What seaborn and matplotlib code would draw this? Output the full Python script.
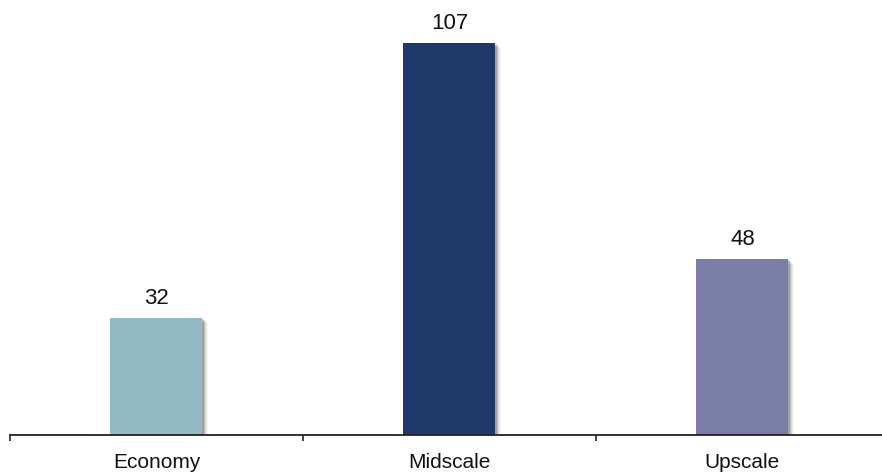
import matplotlib
matplotlib.use("Agg")
import matplotlib.pyplot as plt
import matplotlib.patheffects as pe
import seaborn as sns
import pandas as pd

# Segment counts
categories = ["Economy", "Midscale", "Upscale"]
values = [32, 107, 48]
colors = ["#93B9C5", "#20376A", "#7A7DA6"]

sns.set_style("white")
plt.rcParams["font.family"] = ["Liberation Sans", "DejaVu Sans"]

df = pd.DataFrame({"segment": categories, "count": values})

fig = plt.figure(figsize=(8.82, 4.77), dpi=100)
ax = fig.add_axes([0.0113, 0.086, 0.9966, 0.9065])

sns.barplot(data=df, x="segment", y="count", hue="segment",
            palette=colors, width=0.314, legend=False, ax=ax,
            saturation=1, linewidth=0, edgecolor="none")

# soft drop shadow on the bars
shadow = [
    pe.SimplePatchShadow(offset=(0.8, -0.8), shadow_rgbFace="#000000", alpha=0.14),
    pe.SimplePatchShadow(offset=(1.6, -1.6), shadow_rgbFace="#000000", alpha=0.11),
    pe.SimplePatchShadow(offset=(2.4, -2.4), shadow_rgbFace="#000000", alpha=0.08),
    pe.SimplePatchShadow(offset=(3.2, -3.2), shadow_rgbFace="#000000", alpha=0.05),
    pe.SimplePatchShadow(offset=(4.0, -4.0), shadow_rgbFace="#000000", alpha=0.03),
    pe.Normal(),
]
for patch in ax.patches:
    patch.set_linewidth(0)
    patch.set_path_effects(shadow)

for container in ax.containers:
    ax.bar_label(container, fmt="%d", padding=7, fontsize=16, color="#111111")

ax.set_xlim(-0.5, 2.5)
ax.set_ylim(0, 118)
ax.set_xlabel("")
ax.set_ylabel("")
ax.set_yticks([])

ax.set_xticks([-0.5, 0.5, 1.5, 2.5], minor=True)
ax.tick_params(axis="x", which="major", length=0, pad=12, labelsize=15,
               labelcolor="#111111")
ax.tick_params(axis="x", which="minor", length=4, width=1.2, color="#222222",
               direction="out", bottom=True)

for side in ["left", "right", "top"]:
    ax.spines[side].set_visible(False)
ax.spines["bottom"].set_color("#222222")
ax.spines["bottom"].set_linewidth(1.3)
ax.spines["bottom"].set_zorder(5)

fig.savefig("out.png", dpi=100, facecolor="white")
